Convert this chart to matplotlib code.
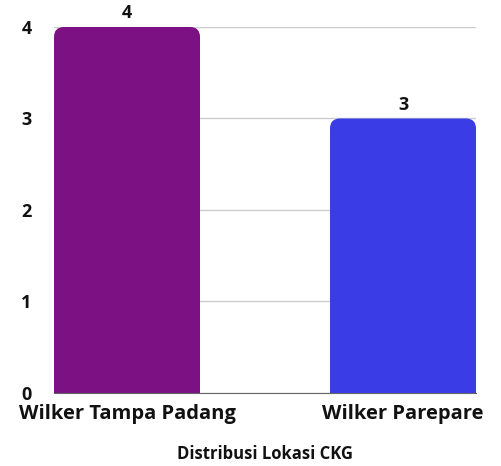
import matplotlib
matplotlib.use('Agg')
import matplotlib.pyplot as plt
from matplotlib.patches import FancyBboxPatch, Rectangle

categories = ['Wilker Tampa Padang', 'Wilker Parepare']
values = [4, 3]
colors = ['#7B1183', '#3A3CE6']
yticks = [0, 1, 2, 3, 4]

plt.rcParams['font.family'] = ['Open Sans', 'DejaVu Sans']
plt.rcParams['font.weight'] = 'bold'

fig = plt.figure(figsize=(5.01, 4.66), dpi=100)
ax = fig.add_axes([0.1078, 0.1567, 0.8423, 0.7854])

x = list(range(len(categories)))
bars = ax.bar(x, values, width=0.529, color=colors)
ax.set_xlim(-0.2645, 1.2645)
ax.set_ylim(0, 4)

# swap plain bars for ones with rounded tops
xpp = 1.529 / 422
ypp = 4 / 366
r = 10 * xpp
for b, c in zip(bars, colors):
    bx, bw, bh = b.get_x(), b.get_width(), b.get_height()
    b.set_visible(False)
    ax.add_patch(FancyBboxPatch((bx, 0), bw, bh,
                                boxstyle='round,pad=0,rounding_size=%f' % r,
                                mutation_aspect=ypp / xpp, fc=c, ec='none', zorder=2))
    ax.add_patch(Rectangle((bx, 0), bw, bh / 2, fc=c, ec='none', zorder=2))
    ax.text(bx + bw / 2, bh + 0.05, str(int(bh)), ha='center', va='bottom',
            fontsize=13, fontweight='bold', color='#111111', clip_on=False)

ax.set_yticks(yticks)
ax.set_yticklabels([str(t) for t in yticks], fontsize=13, fontweight='bold')
ax.set_xticks(x)
ax.set_xticklabels(categories, fontsize=14.5, fontweight='bold')
ax.tick_params(axis='both', length=0, colors='#111111')
ax.tick_params(axis='y', pad=16)
ax.tick_params(axis='x', pad=8)
ax.grid(axis='y', color='#cccccc', linewidth=1, zorder=0)
ax.set_axisbelow(True)
for s in ['top', 'right', 'left']:
    ax.spines[s].set_visible(False)
ax.spines['bottom'].set_color('#666666')
ax.spines['bottom'].set_zorder(3)

ax.set_xlabel('Distribusi Lokasi CKG', fontsize=12, fontweight='bold', labelpad=15, color='#111111')

fig.savefig('out.png', dpi=100)
